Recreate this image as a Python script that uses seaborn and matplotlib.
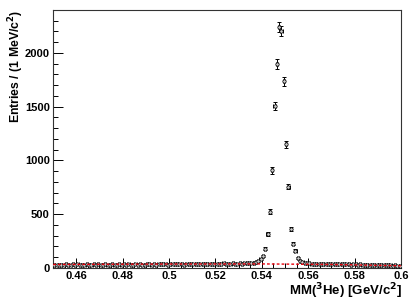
import numpy as np
import pandas as pd
import matplotlib
matplotlib.use("Agg")
import matplotlib.pyplot as plt
from matplotlib.ticker import MultipleLocator, FixedLocator
import seaborn as sns

# ---- data (1 MeV bins, 0.45 - 0.60 GeV/c^2) ----
bin_lo = 0.45
bin_w = 0.001
counts = [
    # 0.45 - 0.47
    28, 31, 25, 30, 27, 33, 29, 26, 32, 30, 35, 28, 31, 29, 34, 30, 27, 32, 29, 33,
    # 0.47 - 0.49
    31, 28, 34, 30, 29, 33, 27, 31, 35, 30, 32, 29, 34, 31, 28, 33, 30, 36, 31, 29,
    # 0.49 - 0.51
    33, 35, 30, 34, 31, 37, 32, 34, 36, 31, 35, 33, 38, 32, 36, 34, 31, 37, 35, 33,
    # 0.51 - 0.53
    36, 34, 38, 33, 37, 35, 39, 34, 38, 36, 40, 35, 38, 41, 36, 39, 37, 42, 38, 40,
    # 0.53 - 0.54
    42, 40, 45, 43, 48, 50, 47, 55, 62, 84,
    # 0.54 - 0.56 (peak)
    112, 178, 318, 523, 907, 1505, 1897, 2243, 2206, 1738,
    1150, 757, 364, 224, 159, 93, 68, 55, 48, 44,
    # 0.56 - 0.60
    41, 38, 36, 39, 35, 37, 34, 36, 38, 33, 35, 37, 34, 36, 32, 35, 33, 38, 31, 34,
    32, 30, 33, 29, 31, 28, 30, 27, 26, 28, 25, 27, 24, 26, 23, 25, 22, 24, 21, 22,
]
bg_x = [0.45, 0.50, 0.54, 0.57, 0.60]
bg_y = [32, 36, 37, 32, 20]

xticks = [0.46, 0.48, 0.50, 0.52, 0.54, 0.56, 0.58, 0.60]
xticklabels = ["0.46", "0.48", "0.5", "0.52", "0.54", "0.56", "0.58", "0.6"]
yticks = [0, 500, 1000, 1500, 2000]

centers = bin_lo + bin_w * (np.arange(len(counts)) + 0.5)
y = np.array(counts, dtype=float)
df = pd.DataFrame({"x": centers, "y": y})
bg = pd.DataFrame({"x": bg_x, "y": bg_y})

sns.set_theme(style="ticks")
plt.rcParams["font.family"] = ["Liberation Sans", "DejaVu Sans"]
plt.rcParams["font.weight"] = "bold"
plt.rcParams["mathtext.default"] = "bf"
plt.rcParams["text.color"] = "black"
plt.rcParams["xtick.color"] = "black"
plt.rcParams["ytick.color"] = "black"

fig = plt.figure(figsize=(4.15, 3.0), dpi=100)
ax = fig.add_axes([0.128, 0.107, 0.838, 0.860])

ax.errorbar(df["x"], df["y"], yerr=np.sqrt(y), xerr=bin_w / 2, fmt="none",
            ecolor="black", elinewidth=0.7, capsize=1.2, capthick=0.7, zorder=3)
sns.scatterplot(data=df, x="x", y="y", ax=ax, marker="o", s=6,
                facecolor="#cccccc", edgecolor="black", linewidth=0.5, zorder=4)
sns.lineplot(data=bg, x="x", y="y", ax=ax, color="#e8000b", linestyle=(0, (2, 1.5)),
             linewidth=1.0, zorder=5)

ax.set_xlim(0.45, 0.60)
ax.set_ylim(0, 2400)
ax.xaxis.set_major_locator(FixedLocator(xticks))
ax.set_xticklabels(xticklabels)
ax.xaxis.set_minor_locator(MultipleLocator(0.005))
ax.yaxis.set_major_locator(FixedLocator(yticks))
ax.yaxis.set_minor_locator(MultipleLocator(100))

ax.tick_params(axis="both", which="major", direction="in", length=7, width=0.7,
               labelsize=8, pad=2.5, colors="black")
ax.tick_params(axis="both", which="minor", direction="in", length=3.5, width=0.7)
for lab in ax.get_xticklabels() + ax.get_yticklabels():
    lab.set_fontweight("bold")
for s in ax.spines.values():
    s.set_linewidth(0.8)
    s.set_color("#333333")

ax.set_xlabel("")
ax.set_ylabel("")
fig.text(0.970, 0.030, r"MM($^{3}$He) [GeV/c$^{2}$]", ha="right", va="center",
         fontsize=9.5, fontweight="bold")
fig.text(0.040, 0.967, r"Entries / (1 MeV/c$^{2}$)", ha="center", va="top",
         rotation=90, fontsize=8.8, fontweight="bold")

fig.savefig("out.png", dpi=100)
